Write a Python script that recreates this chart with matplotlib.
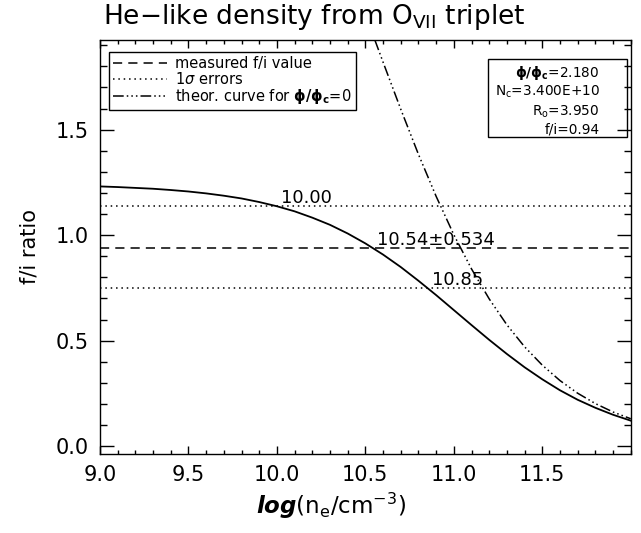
import matplotlib
matplotlib.use("Agg")
import matplotlib.pyplot as plt
from matplotlib.patches import Rectangle
from matplotlib.ticker import MultipleLocator

# log(n_e) grid and f/i values
log_ne = [9.0, 9.1, 9.2, 9.3, 9.4, 9.5, 9.6, 9.7, 9.8, 9.9,
          10.0, 10.1, 10.2, 10.3, 10.4, 10.5, 10.6, 10.7, 10.8, 10.9,
          11.0, 11.1, 11.2, 11.3, 11.4, 11.5, 11.6, 11.7, 11.8, 11.9, 12.0]
fi_model = [1.231, 1.228, 1.224, 1.220, 1.214, 1.207, 1.198, 1.187, 1.174, 1.157,
            1.137, 1.113, 1.083, 1.049, 1.008, 0.961, 0.908, 0.849, 0.784, 0.716,
            0.645, 0.574, 0.504, 0.437, 0.374, 0.317, 0.265, 0.220, 0.182, 0.149, 0.121]

log_ne_theor = [10.5, 10.55, 10.6, 10.7, 10.8, 10.9, 11.0, 11.1, 11.2, 11.3,
                11.4, 11.5, 11.6, 11.7, 11.8, 11.9, 12.0]
fi_theor = [2.047, 1.933, 1.820, 1.597, 1.383, 1.184, 1.002, 0.840, 0.698, 0.575,
            0.471, 0.384, 0.311, 0.251, 0.202, 0.162, 0.130]

fi_measured = 0.94
fi_upper = 1.137
fi_lower = 0.748
dens_labels = ["10.00", "10.54\u00b10.534", "10.85"]
dens_label_x = [10.0, 10.54, 10.85]
dens_label_y = [fi_upper, fi_measured, fi_lower]

param_lines = [r"$\mathbf{\phi/\phi_c}$=2.180", r"N$_\mathrm{c}$=3.400E+10",
               r"R$_\mathrm{o}$=3.950", "f/i=0.94"]

plt.rcParams["mathtext.fontset"] = "dejavusans"

fig = plt.figure(figsize=(6.41, 5.33), dpi=100)
fig.subplots_adjust(left=0.156, right=0.984, top=0.925, bottom=0.149)
ax = fig.add_subplot(111)

ax.axhline(fi_measured, color="black", lw=1.1, ls=(0, (6, 4)), label="measured f/i value")
ax.axhline(fi_upper, color="black", lw=1.1, ls=(0, (1, 2.5)), label=r"1$\sigma$ errors")
ax.axhline(fi_lower, color="black", lw=1.1, ls=(0, (1, 2.5)))
ax.plot(log_ne, fi_model, color="black", lw=1.3)
ax.plot(log_ne_theor, fi_theor, color="black", lw=1.1,
        ls=(0, (7, 2, 1, 2, 1, 2, 1, 2)), label=r"theor. curve for $\mathbf{\phi/\phi_c}$=0")

for lx, ly, txt in zip(dens_label_x, dens_label_y, dens_labels):
    ax.text(lx + 0.025, ly - 0.005, txt, fontsize=13, ha="left", va="bottom")

ax.set_xlim(9.0, 12.0)
ax.set_ylim(-0.035, 1.925)
ax.xaxis.set_major_locator(MultipleLocator(0.5))
ax.xaxis.set_minor_locator(MultipleLocator(0.1))
ax.yaxis.set_major_locator(MultipleLocator(0.5))
ax.yaxis.set_minor_locator(MultipleLocator(0.1))
ax.set_xticks([9.0, 9.5, 10.0, 10.5, 11.0, 11.5])
ax.tick_params(which="both", direction="in", top=True, right=True, labelsize=15, width=1)
ax.tick_params(axis="x", which="major", length=6, pad=8)
ax.tick_params(axis="x", which="minor", length=3)
ax.tick_params(axis="y", which="major", length=10, pad=8)
ax.tick_params(axis="y", which="minor", length=5)
for sp in ax.spines.values():
    sp.set_linewidth(1)

ax.set_ylabel("f/i ratio", fontsize=15, labelpad=12)
ax.set_xlabel(r"$\mathbfit{log}$(n$_\mathrm{e}$/cm$^{-3}$)", fontsize=16.5, labelpad=4)
ax.xaxis.set_label_coords(0.435, -0.09)
fig.text(0.49, 0.968, r"He$-$like density from O$_{\mathrm{VII}}$ triplet",
         fontsize=19, ha="center", va="center")

leg = ax.legend(loc="upper left", bbox_to_anchor=(0.017, 0.971), borderaxespad=0,
                fontsize=10.5, handlelength=3.7, handletextpad=0.6, labelspacing=0.03,
                borderpad=0.25, fancybox=False, edgecolor="black", framealpha=1)
leg.get_frame().set_linewidth(1)

ax.add_patch(Rectangle((0.731, 0.765), 0.2615, 0.189, transform=ax.transAxes,
                       fill=False, edgecolor="black", lw=1))
for yy, txt in zip([0.920, 0.874, 0.826, 0.783], param_lines):
    ax.text(0.9416, yy, txt, transform=ax.transAxes, fontsize=9.8, ha="right", va="center")

plt.savefig("out.png", dpi=100)
plt.close()
